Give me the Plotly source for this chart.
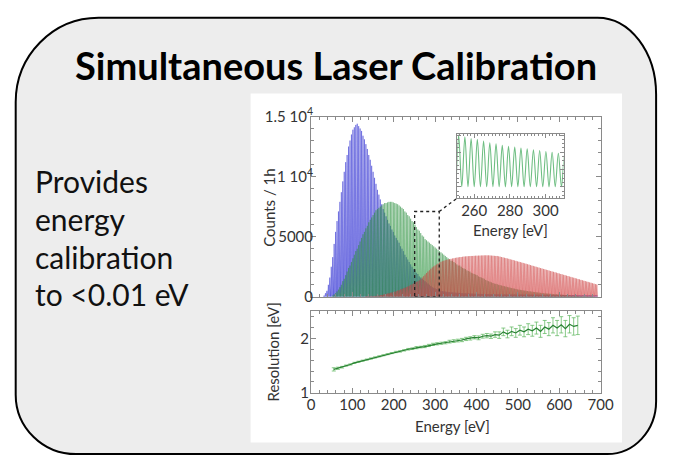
import plotly.graph_objects as go

W, H = 673, 465
PHOTON_EV = 3.49  # laser photon energy: spacing of the comb lines

# Peak counts of each comb line, starting at photon number *_first_line
blue_first_line = 9
blue_peaks = [
    100, 300, 500, 1000, 1600, 2500, 3300, 4400, 5400, 6300,
    7100, 7900, 8700, 9600, 10400, 11200, 11800, 12500, 13000, 13500,
    13900, 14100, 14300, 14400, 14200, 14000, 13800, 13400, 13100, 12700,
    12300, 11800, 11400, 10900, 10400, 9900, 9400, 8900, 8500, 8100,
    7700, 7300, 7000, 6700, 6400, 6100, 5900, 5600, 5400, 5100,
    4900, 4700, 4500, 4200, 4000, 3800, 3500, 3300, 3100, 2900,
    2700, 2500, 2300, 2200, 2000, 1900, 1700, 1600, 1500, 1400,
    1300, 1200, 1100, 1000, 900, 800, 750, 700, 650, 600,
    550, 500, 480, 460, 440, 420, 400, 390, 380, 370,
    360, 350, 340, 330, 320, 310, 300, 300, 290, 290,
    280, 280, 270, 270, 260, 260, 250, 250, 250, 240,
    240, 240, 230, 230, 230, 220, 220, 220, 220, 210,
    210, 210, 210, 210, 200, 200, 200, 200, 200, 200,
    200, 200, 200, 200, 200, 190, 190, 190, 190, 190,
    190, 190, 190, 180, 180, 180, 180, 180, 180, 180,
    170, 170, 170, 170, 170, 170, 170, 170, 160, 160,
    160, 160, 160, 160, 160, 160, 160, 150, 150, 150,
    150, 150, 150, 150, 150, 150, 150, 140, 140, 140,
    140, 140, 140, 140, 140, 140, 130, 130, 130, 130,
]

green_first_line = 15
green_peaks = [
    100, 200, 300, 450, 600, 800, 1000, 1300, 1500, 1800,
    2100, 2400, 2600, 2900, 3200, 3500, 3800, 4000, 4300, 4600,
    4900, 5200, 5400, 5700, 5900, 6200, 6400, 6600, 6800, 7000,
    7200, 7300, 7400, 7500, 7600, 7700, 7800, 7800, 7850, 7900,
    7900, 7900, 7850, 7800, 7750, 7700, 7600, 7500, 7400, 7300,
    7100, 7000, 6800, 6700, 6500, 6300, 6200, 6000, 5800, 5600,
    5500, 5300, 5100, 5000, 4800, 4700, 4600, 4500, 4400, 4300,
    4200, 4100, 4000, 3900, 3800, 3700, 3600, 3500, 3400, 3300,
    3200, 3100, 3000, 3000, 2900, 2800, 2700, 2600, 2600, 2500,
    2400, 2350, 2300, 2200, 2150, 2100, 2000, 1950, 1900, 1850,
    1800, 1700, 1650, 1600, 1550, 1500, 1400, 1350, 1300, 1250,
    1200, 1150, 1100, 1080, 1050, 1000, 970, 940, 910, 880,
    850, 820, 790, 760, 730, 700, 680, 650, 620, 600,
    580, 560, 540, 520, 500, 480, 460, 450, 430, 410,
    400, 380, 360, 350, 330, 320, 300, 290, 280, 270,
    260, 250, 240, 230, 220, 210, 200, 190, 180, 170,
    160, 150, 140, 130, 120, 110, 100, 90, 85, 80,
    70, 60, 55, 50, 40, 30, 25, 20, 15, 10,
    5,
]

red_first_line = 38
red_peaks = [
    20, 30, 40, 40, 50, 50, 60, 80, 100, 110,
    130, 150, 180, 210, 240, 270, 300, 330, 360, 390,
    430, 470, 520, 560, 610, 660, 700, 750, 800, 860,
    920, 990, 1050, 1110, 1180, 1240, 1300, 1370, 1450, 1600,
    1720, 1850, 1980, 2100, 2210, 2330, 2440, 2530, 2610, 2690,
    2770, 2860, 2910, 2960, 3000, 3040, 3080, 3110, 3140, 3160,
    3190, 3210, 3240, 3260, 3280, 3300, 3310, 3330, 3350, 3360,
    3370, 3380, 3390, 3400, 3400, 3410, 3420, 3420, 3430, 3430,
    3440, 3440, 3450, 3450, 3450, 3450, 3440, 3430, 3420, 3410,
    3400, 3400, 3370, 3340, 3310, 3280, 3250, 3220, 3190, 3160,
    3120, 3090, 3060, 3020, 2990, 2950, 2920, 2890, 2850, 2820,
    2780, 2750, 2710, 2680, 2640, 2600, 2570, 2530, 2500, 2460,
    2430, 2390, 2360, 2320, 2290, 2250, 2220, 2180, 2150, 2110,
    2080, 2040, 2010, 1970, 1940, 1900, 1870, 1830, 1800, 1760,
    1730, 1690, 1660, 1620, 1590, 1550, 1520, 1480, 1450, 1410,
    1380, 1340, 1310, 1270, 1240, 1200, 1170, 1130, 1100, 1060,
    1030,
]

# Energy resolution from the fitted laser lines
res_energy = [55, 65, 75, 85, 95, 105, 115, 125, 135, 145,
              155, 165, 175, 185, 195, 205, 215, 225, 235, 245,
              255, 265, 275, 285, 295, 305, 315, 325, 335, 345,
              355, 365, 375, 385, 395, 405, 415, 425, 435, 445,
              455, 465, 475, 485, 495, 505, 515, 525, 535, 545,
              555, 565, 575, 585, 595, 605, 615, 625, 635, 645]
res_value = [1.43, 1.45, 1.47, 1.50, 1.52, 1.55, 1.57, 1.59, 1.61, 1.63,
             1.65, 1.67, 1.69, 1.71, 1.73, 1.75, 1.76, 1.78, 1.80, 1.81,
             1.83, 1.84, 1.85, 1.87, 1.89, 1.90, 1.91, 1.92, 1.94, 1.95,
             1.96, 1.97, 1.99, 2.00, 2.02, 2.01, 2.04, 2.05, 2.04, 2.07,
             2.06, 2.12, 2.08, 2.13, 2.10, 2.15, 2.12, 2.17, 2.14, 2.19,
             2.13, 2.21, 2.17, 2.24, 2.19, 2.25, 2.18, 2.26, 2.22, 2.24]
res_error = [0.03, 0.02, 0.015, 0.01, 0.01, 0.01, 0.01, 0.01, 0.01, 0.01,
             0.01, 0.01, 0.01, 0.01, 0.01, 0.012, 0.012, 0.012, 0.015, 0.015,
             0.02, 0.015, 0.02, 0.02, 0.02, 0.02, 0.02, 0.02, 0.025, 0.025,
             0.025, 0.03, 0.03, 0.03, 0.03, 0.035, 0.035, 0.04, 0.04, 0.05,
             0.06, 0.07, 0.07, 0.08, 0.08, 0.09, 0.09, 0.10, 0.10, 0.11,
             0.11, 0.12, 0.12, 0.14, 0.14, 0.15, 0.15, 0.16, 0.16, 0.17]

counts_ticks = [0, 5000, 10000, 15000]
counts_ticktext = ["0", "5000", "1 10<sup>4</sup>", "1.5 10<sup>4</sup>"]
energy_range = [0, 700]
counts_range = [0, 15000]
res_range = [1, 2.5]
inset_range = [250.5, 310]
inset_counts_range = [-1300, 6150]
zoom_box_top = 7100

FONT = "Lato"
INK = "#333333"
FRAME = "#8a8a8a"
NJ = "\u200c"  # keeps "ti" from joining into a ligature


def px(x):
    return x / W


def py(y):
    return 1 - y / H


def comb_xy(first, peaks):
    """Comb of laser lines: a peak at every photon multiple, a valley between."""
    xs, ys = [], []
    for i, h in enumerate(peaks):
        n = first + i
        xs += [(n - 0.5) * PHOTON_EV, n * PHOTON_EV]
        ys += [0, h]
    xs.append((first + len(peaks) - 0.5) * PHOTON_EV)
    ys.append(0)
    return xs, ys


main_x = [px(315), px(612)]
top_y = [py(298), py(110)]
bot_y = [py(398), py(313)]
inset_x = [px(465), px(574)]
inset_y = [py(195), py(128)]

fig = go.Figure()

series = [
    (blue_first_line, blue_peaks, "rgba(80,80,230,0.40)", "rgba(55,55,210,0.80)"),
    (green_first_line, green_peaks, "rgba(80,185,90,0.35)", "rgba(45,145,65,0.70)"),
    (red_first_line, red_peaks, "rgba(235,95,95,0.35)", "rgba(205,65,65,0.70)"),
]
for first, peaks, fillc, linec in series:
    xs, ys = comb_xy(first, peaks)
    fig.add_trace(go.Scatter(x=xs, y=ys, mode="lines", fill="tozeroy",
                             fillcolor=fillc, line=dict(color=linec, width=0.6),
                             xaxis="x", yaxis="y", hoverinfo="skip", showlegend=False))

# zoomed view of the green comb
gx, gy = comb_xy(green_first_line, green_peaks)
fig.add_trace(go.Scatter(x=gx, y=gy, mode="lines",
                         line=dict(color="rgb(110,190,130)", width=1.1, shape="spline"),
                         xaxis="x3", yaxis="y3", hoverinfo="skip", showlegend=False))

# resolution versus energy
fig.add_trace(go.Scatter(x=res_energy, y=res_value, mode="lines",
                         line=dict(color="rgb(40,130,50)", width=1.2),
                         error_y=dict(type="data", array=res_error,
                                      color="rgba(100,185,100,0.85)", thickness=0.9, width=2),
                         xaxis="x2", yaxis="y2", hoverinfo="skip", showlegend=False))

axis_common = dict(showline=True, linecolor=FRAME, linewidth=1, mirror="ticks",
                   ticks="inside", tickcolor=FRAME, ticklen=5, showgrid=False,
                   zeroline=False, tickfont=dict(family=FONT, size=15, color=INK))

fig.update_layout(
    width=W, height=H, margin=dict(l=0, r=0, t=0, b=0),
    paper_bgcolor="white", plot_bgcolor="white",
    xaxis=dict(axis_common, domain=main_x, range=energy_range, anchor="y",
               dtick=100, showticklabels=False,
               minor=dict(dtick=20, ticks="inside", ticklen=3, tickcolor=FRAME)),
    yaxis=dict(axis_common, domain=top_y, range=counts_range, anchor="x",
               tickvals=counts_ticks, ticktext=counts_ticktext, ticklabelstandoff=-6,
               minor=dict(dtick=1000, ticks="inside", ticklen=3, tickcolor=FRAME)),
    xaxis2=dict(axis_common, domain=main_x, range=energy_range, anchor="y2",
                dtick=100, ticklabelstandoff=-2,
                minor=dict(dtick=20, ticks="inside", ticklen=3, tickcolor=FRAME)),
    yaxis2=dict(axis_common, domain=bot_y, range=res_range, anchor="x2",
                tickvals=[1, 2], ticklabelstandoff=-2,
                minor=dict(dtick=0.2, ticks="inside", ticklen=3, tickcolor=FRAME)),
    xaxis3=dict(axis_common, domain=inset_x, range=inset_range, anchor="y3",
                tick0=0, dtick=20, ticklen=4, ticklabelstandoff=-1,
                minor=dict(dtick=2, ticks="inside", ticklen=2, tickcolor=FRAME)),
    yaxis3=dict(axis_common, domain=inset_y, range=inset_counts_range, anchor="x3",
                showticklabels=False, dtick=2000, ticklen=4,
                minor=dict(dtick=500, ticks="inside", ticklen=2, tickcolor=FRAME)),
)


def rounded_path(l, t, r, b, tl, tr, br, bl):
    k = 0.5523
    pts = []

    def P(x, y):
        return f"{px(x):.5f},{py(y):.5f}"

    pts.append(f"M{P(l + tl[0], t)}")
    pts.append(f"L{P(r - tr[0], t)}")
    pts.append(f"C{P(r - tr[0] + k * tr[0], t)} {P(r, t + tr[1] - k * tr[1])} {P(r, t + tr[1])}")
    pts.append(f"L{P(r, b - br[1])}")
    pts.append(f"C{P(r, b - br[1] + k * br[1])} {P(r - br[0] + k * br[0], b)} {P(r - br[0], b)}")
    pts.append(f"L{P(l + bl[0], b)}")
    pts.append(f"C{P(l + bl[0] - k * bl[0], b)} {P(l, b - bl[1] + k * bl[1])} {P(l, b - bl[1])}")
    pts.append(f"L{P(l, t + tl[1])}")
    pts.append(f"C{P(l, t + tl[1] - k * tl[1])} {P(l + tl[0] - k * tl[0], t)} {P(l + tl[0], t)}")
    return " ".join(pts) + " Z"


shapes = [
    dict(type="path", xref="paper", yref="paper", layer="below",
         path=rounded_path(12, 7, 669, 462, (85, 88), (60, 80), (50, 55), (62, 62)),
         fillcolor="#ededed", line=dict(color="black", width=2)),
    dict(type="rect", xref="paper", yref="paper", layer="below",
         x0=px(253), x1=px(634), y0=py(450), y1=py(86),
         fillcolor="white", line=dict(width=0)),
    dict(type="rect", xref="x", yref="y", layer="above",
         x0=inset_range[0], x1=inset_range[1], y0=0, y1=zoom_box_top,
         line=dict(color="#222", width=1.3, dash="dot")),
]
# connector from the zoom box to the inset corner
frac_x = (inset_x[0] - main_x[0]) / (main_x[1] - main_x[0])
frac_y = (inset_y[0] - top_y[0]) / (top_y[1] - top_y[0])
corner_x = energy_range[0] + frac_x * (energy_range[1] - energy_range[0])
corner_y = counts_range[0] + frac_y * (counts_range[1] - counts_range[0])
shapes.append(dict(type="line", xref="x", yref="y", layer="above",
                   x0=inset_range[1], y0=zoom_box_top, x1=corner_x, y1=corner_y,
                   line=dict(color="#222", width=1.3, dash="dot")))
fig.update_layout(shapes=shapes)

ann = [
    dict(text=f"Simultaneous Laser Calibra{NJ}tion", x=px(341), y=py(56),
         font=dict(family=FONT, size=38, color="black", weight=700)),
    dict(text="Counts / 1h", x=px(271), y=py(205), textangle=-90,
         font=dict(family=FONT, size=15, color=INK)),
    dict(text="Resolution [eV]", x=px(276), y=py(356), textangle=-90,
         font=dict(family=FONT, size=15, color=INK)),
    dict(text="Energy [eV]", x=px(460), y=py(433),
         font=dict(family=FONT, size=15, color=INK)),
    dict(text="Energy [eV]", x=px(520), y=py(228),
         font=dict(family=FONT, size=15, color=INK)),
]
for line, yc in zip(["Provides", "energy", f"calibra{NJ}tion", "to &lt;0.01 eV"],
                    [177, 217, 256, 295]):
    ann.append(dict(text=line, x=px(30), y=py(yc), xanchor="left",
                    font=dict(family=FONT, size=30, color="#111")))
for a in ann:
    a.update(xref="paper", yref="paper", showarrow=False)
    a.setdefault("xanchor", "center")
    a.setdefault("yanchor", "middle")
fig.update_layout(annotations=ann)

fig.write_html("out.html",
               post_script="document.body.style.margin='0';document.body.style.overflow='hidden';")
